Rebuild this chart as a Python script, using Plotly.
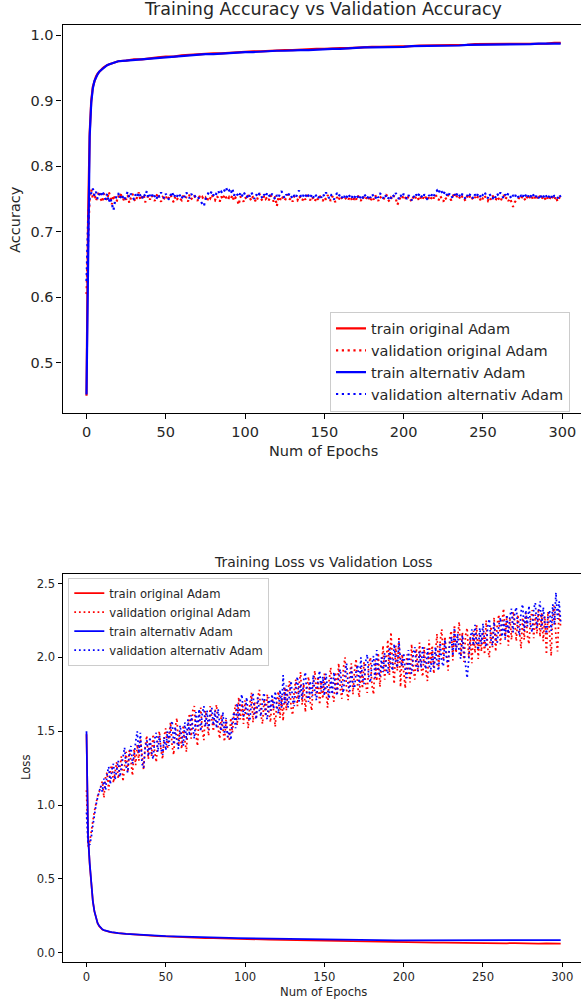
import plotly.graph_objects as go

# ---------------- data ----------------
EPOCHS = list(range(300))
TRAIN_EPOCHS = list(range(21)) + list(range(25, 300, 5)) + [299]

TRAIN_ACC_ORIG = [0.450, 0.720, 0.850, 0.900, 0.921, 0.931, 0.937, 0.941, 0.944, 0.947, 0.949,
                  0.951, 0.953, 0.954, 0.955, 0.956, 0.957, 0.958, 0.958, 0.959, 0.960,
                  0.961, 0.963, 0.963, 0.965, 0.966, 0.967, 0.967, 0.969, 0.970, 0.971,
                  0.971, 0.972, 0.972, 0.973, 0.974, 0.974, 0.975, 0.975, 0.976, 0.976,
                  0.977, 0.977, 0.978, 0.978, 0.979, 0.979, 0.980, 0.980, 0.980, 0.981,
                  0.981, 0.982, 0.982, 0.982, 0.983, 0.983, 0.983, 0.984, 0.984, 0.984,
                  0.985, 0.985, 0.985, 0.985, 0.986, 0.986, 0.986, 0.986, 0.986, 0.987,
                  0.987, 0.987, 0.987, 0.987, 0.988, 0.988]
TRAIN_ACC_ALT = [0.452, 0.705, 0.845, 0.897, 0.919, 0.930, 0.936, 0.940, 0.944, 0.946, 0.949,
                 0.951, 0.952, 0.954, 0.955, 0.956, 0.957, 0.957, 0.958, 0.959, 0.960,
                 0.961, 0.962, 0.964, 0.964, 0.966, 0.966, 0.968, 0.968, 0.969, 0.970,
                 0.971, 0.971, 0.972, 0.973, 0.973, 0.974, 0.974, 0.975, 0.975, 0.976,
                 0.976, 0.977, 0.977, 0.977, 0.978, 0.978, 0.979, 0.979, 0.980, 0.980,
                 0.981, 0.981, 0.981, 0.982, 0.982, 0.982, 0.983, 0.983, 0.983, 0.984,
                 0.984, 0.984, 0.984, 0.985, 0.985, 0.985, 0.985, 0.986, 0.986, 0.986,
                 0.986, 0.986, 0.987, 0.987, 0.987, 0.987]

VAL_ACC_ORIG = [
    0.605, 0.700, 0.757, 0.764, 0.751, 0.759, 0.747, 0.755, 0.762, 0.750,
    0.745, 0.758, 0.753, 0.748, 0.761, 0.754, 0.742, 0.756, 0.750, 0.746,
    0.755, 0.751, 0.759, 0.747, 0.753, 0.749, 0.756, 0.744, 0.752, 0.758,
    0.750, 0.746, 0.754, 0.760, 0.748, 0.753, 0.757, 0.745, 0.751, 0.755,
    0.749, 0.756, 0.752, 0.747, 0.754, 0.759, 0.750, 0.746, 0.753, 0.751,
    0.755, 0.748, 0.752, 0.757, 0.750, 0.745, 0.754, 0.749, 0.753, 0.751,
    0.748, 0.755, 0.750, 0.753, 0.746, 0.757, 0.751, 0.749, 0.754, 0.752,
    0.747, 0.755, 0.750, 0.753, 0.749, 0.752, 0.746, 0.754, 0.751, 0.757,
    0.750, 0.748, 0.755, 0.752, 0.746, 0.754, 0.749, 0.757, 0.751, 0.748,
    0.753, 0.750, 0.756, 0.747, 0.752, 0.749, 0.741, 0.754, 0.750, 0.746,
    0.753, 0.749, 0.756, 0.751, 0.747, 0.754, 0.750, 0.745, 0.752, 0.758,
    0.751, 0.747, 0.755, 0.750, 0.753, 0.748, 0.756, 0.751, 0.746, 0.754,
    0.739, 0.752, 0.748, 0.755, 0.750, 0.747, 0.753, 0.757, 0.749, 0.752,
    0.746, 0.754, 0.750, 0.748, 0.755, 0.751, 0.747, 0.753, 0.749, 0.756,
    0.751, 0.748, 0.754, 0.750, 0.746, 0.753, 0.749, 0.755, 0.751, 0.747,
    0.753, 0.749, 0.756, 0.752, 0.747, 0.754, 0.750, 0.745, 0.753, 0.748,
    0.755, 0.751, 0.748, 0.750, 0.752, 0.748, 0.754, 0.750, 0.746, 0.753,
    0.749, 0.756, 0.751, 0.747, 0.754, 0.750, 0.748, 0.755, 0.752, 0.746,
    0.753, 0.749, 0.756, 0.751, 0.747, 0.754, 0.750, 0.748, 0.753, 0.757,
    0.750, 0.746, 0.752, 0.749, 0.755, 0.751, 0.741, 0.747, 0.753, 0.750,
    0.756, 0.752, 0.748, 0.754, 0.750, 0.746, 0.753, 0.749, 0.755, 0.751,
    0.747, 0.754, 0.750, 0.756, 0.752, 0.748, 0.753, 0.749, 0.755, 0.751,
    0.757, 0.752, 0.748, 0.755, 0.750, 0.746, 0.753, 0.749, 0.756, 0.752,
    0.748, 0.754, 0.760, 0.751, 0.757, 0.753, 0.749, 0.755, 0.751, 0.747,
    0.754, 0.750, 0.756, 0.752, 0.748, 0.753, 0.749, 0.755, 0.751, 0.746,
    0.752, 0.756, 0.750, 0.747, 0.753, 0.749, 0.755, 0.751, 0.748, 0.754,
    0.750, 0.746, 0.752, 0.756, 0.749, 0.753, 0.747, 0.751, 0.745, 0.738,
    0.745, 0.748, 0.748, 0.753, 0.750, 0.755, 0.751, 0.747, 0.754, 0.750,
    0.756, 0.752, 0.748, 0.754, 0.750, 0.757, 0.753, 0.749, 0.755, 0.751,
    0.747, 0.754, 0.750, 0.756, 0.752, 0.748, 0.754, 0.746, 0.751, 0.757]
VAL_ACC_ALT = [
    0.625, 0.715, 0.752, 0.760, 0.766, 0.755, 0.761, 0.750, 0.758, 0.754,
    0.762, 0.756, 0.749, 0.758, 0.745, 0.752, 0.740, 0.733, 0.747, 0.755,
    0.759, 0.751, 0.757, 0.753, 0.748, 0.756, 0.761, 0.752, 0.758, 0.754,
    0.749, 0.757, 0.753, 0.760, 0.755, 0.750, 0.758, 0.754, 0.762, 0.751,
    0.756, 0.752, 0.759, 0.754, 0.749, 0.757, 0.753, 0.760, 0.755, 0.751,
    0.758, 0.754, 0.749, 0.756, 0.761, 0.752, 0.757, 0.753, 0.759, 0.755,
    0.750, 0.757, 0.753, 0.760, 0.755, 0.751, 0.758, 0.754, 0.756, 0.752,
    0.754, 0.750, 0.747, 0.742, 0.739, 0.749, 0.755, 0.760, 0.757, 0.762,
    0.756, 0.753, 0.759, 0.763, 0.757, 0.761, 0.758, 0.764, 0.768, 0.760,
    0.763, 0.758, 0.766, 0.755, 0.760, 0.757, 0.753, 0.759, 0.754, 0.761,
    0.756, 0.752, 0.758, 0.754, 0.760, 0.755, 0.750, 0.757, 0.753, 0.759,
    0.755, 0.751, 0.757, 0.753, 0.760, 0.756, 0.752, 0.758, 0.754, 0.749,
    0.756, 0.752, 0.758, 0.762, 0.755, 0.751, 0.757, 0.753, 0.759, 0.754,
    0.750, 0.756, 0.752, 0.758, 0.763, 0.755, 0.751, 0.757, 0.753, 0.759,
    0.755, 0.751, 0.757, 0.752, 0.758, 0.754, 0.750, 0.756, 0.752, 0.758,
    0.754, 0.760, 0.756, 0.751, 0.757, 0.753, 0.749, 0.755, 0.759, 0.754,
    0.758, 0.753, 0.749, 0.756, 0.752, 0.758, 0.754, 0.750, 0.756, 0.752,
    0.757, 0.753, 0.749, 0.755, 0.751, 0.758, 0.754, 0.750, 0.756, 0.752,
    0.758, 0.754, 0.750, 0.756, 0.752, 0.759, 0.755, 0.751, 0.757, 0.753,
    0.749, 0.755, 0.751, 0.757, 0.753, 0.759, 0.755, 0.750, 0.756, 0.752,
    0.758, 0.754, 0.750, 0.756, 0.752, 0.748, 0.755, 0.751, 0.757, 0.753,
    0.759, 0.755, 0.751, 0.757, 0.753, 0.749, 0.756, 0.752, 0.758, 0.754,
    0.760, 0.763, 0.758, 0.765, 0.761, 0.756, 0.762, 0.757, 0.753, 0.759,
    0.755, 0.751, 0.757, 0.753, 0.760, 0.756, 0.752, 0.758, 0.754, 0.750,
    0.756, 0.752, 0.758, 0.754, 0.750, 0.757, 0.753, 0.759, 0.755, 0.751,
    0.757, 0.761, 0.755, 0.751, 0.758, 0.754, 0.750, 0.756, 0.752, 0.758,
    0.754, 0.760, 0.756, 0.751, 0.757, 0.753, 0.759, 0.755, 0.750, 0.756,
    0.752, 0.758, 0.754, 0.750, 0.756, 0.752, 0.759, 0.755, 0.751, 0.757,
    0.753, 0.759, 0.755, 0.751, 0.757, 0.753, 0.749, 0.756, 0.752, 0.758,
    0.754, 0.750, 0.756, 0.752, 0.758, 0.754, 0.755, 0.751, 0.757, 0.753]

TRAIN_LOSS_ORIG = [1.48, 0.80, 0.60, 0.45, 0.35, 0.28, 0.23, 0.20, 0.180, 0.166, 0.157,
                   0.152, 0.148, 0.145, 0.142, 0.140, 0.138, 0.136, 0.135, 0.134, 0.132,
                   0.127, 0.122, 0.119, 0.116, 0.112, 0.110, 0.107, 0.105, 0.103, 0.101,
                   0.099, 0.098, 0.096, 0.095, 0.094, 0.093, 0.091, 0.090, 0.089, 0.088,
                   0.086, 0.084, 0.083, 0.082, 0.081, 0.079, 0.078, 0.077, 0.076, 0.075,
                   0.076, 0.074, 0.073, 0.073, 0.072, 0.071, 0.072, 0.070, 0.070, 0.069,
                   0.069, 0.068, 0.065, 0.067, 0.066, 0.066, 0.065, 0.065, 0.064, 0.065,
                   0.063, 0.064, 0.062, 0.063, 0.062, 0.062]
TRAIN_LOSS_ALT = [1.50, 0.78, 0.61, 0.46, 0.35, 0.28, 0.235, 0.20, 0.182, 0.168, 0.158,
                  0.153, 0.149, 0.146, 0.143, 0.141, 0.139, 0.137, 0.136, 0.135, 0.133,
                  0.128, 0.124, 0.121, 0.118, 0.115, 0.112, 0.110, 0.108, 0.106, 0.105,
                  0.103, 0.102, 0.101, 0.100, 0.099, 0.098, 0.097, 0.096, 0.095, 0.094,
                  0.093, 0.092, 0.091, 0.090, 0.089, 0.088, 0.088, 0.087, 0.087, 0.086,
                  0.086, 0.085, 0.085, 0.085, 0.084, 0.084, 0.084, 0.083, 0.083, 0.083,
                  0.083, 0.082, 0.083, 0.082, 0.082, 0.083, 0.082, 0.082, 0.083, 0.084,
                  0.083, 0.084, 0.083, 0.085, 0.084, 0.086]

VAL_LOSS_ORIG = [
    1.10, 0.72, 0.75, 0.81, 0.89, 0.96, 1.02, 1.06, 1.09, 1.12,
    1.16, 1.05, 1.19, 1.22, 1.10, 1.24, 1.27, 1.15, 1.23, 1.29,
    1.18, 1.27, 1.33, 1.16, 1.29, 1.36, 1.22, 1.37, 1.30, 1.20,
    1.38, 1.27, 1.41, 1.30, 1.45, 1.33, 1.24, 1.40, 1.47, 1.31,
    1.43, 1.33, 1.48, 1.36, 1.29, 1.45, 1.50, 1.37, 1.31, 1.47,
    1.52, 1.38, 1.48, 1.56, 1.40, 1.34, 1.53, 1.59, 1.40, 1.50,
    1.38, 1.54, 1.44, 1.36, 1.56, 1.62, 1.45, 1.64, 1.67, 1.48,
    1.40, 1.61, 1.66, 1.51, 1.44, 1.64, 1.56, 1.47, 1.67, 1.58,
    1.50, 1.63, 1.68, 1.52, 1.45, 1.61, 1.50, 1.43, 1.58, 1.47,
    1.44, 1.59, 1.49, 1.62, 1.68, 1.54, 1.73, 1.58, 1.69, 1.55,
    1.71, 1.59, 1.52, 1.69, 1.76, 1.56, 1.70, 1.58, 1.73, 1.78,
    1.61, 1.55, 1.72, 1.60, 1.75, 1.63, 1.56, 1.74, 1.62, 1.53,
    1.70, 1.77, 1.59, 1.74, 1.57, 1.80, 1.64, 1.78, 1.84, 1.66,
    1.61, 1.78, 1.85, 1.67, 1.81, 1.90, 1.68, 1.82, 1.63, 1.79,
    1.87, 1.70, 1.64, 1.83, 1.91, 1.73, 1.87, 1.68, 1.84, 1.72,
    1.89, 1.74, 1.66, 1.85, 1.93, 1.75, 1.70, 1.90, 1.76, 1.96,
    1.79, 1.72, 1.93, 2.00, 1.78, 1.71, 1.89, 1.96, 1.75, 1.91,
    1.99, 1.80, 1.73, 1.93, 1.79, 1.97, 1.82, 1.76, 1.95, 2.00,
    1.81, 1.75, 1.98, 1.84, 2.03, 1.80, 1.95, 2.08, 1.85, 2.00,
    2.12, 1.88, 2.17, 1.95, 1.82, 2.08, 1.91, 2.14, 1.80, 2.02,
    1.87, 1.79, 2.02, 1.90, 1.83, 2.09, 1.93, 1.85, 2.06, 1.90,
    2.10, 1.93, 1.87, 2.07, 1.91, 1.84, 2.12, 1.95, 2.08, 1.89,
    2.05, 2.16, 1.93, 2.11, 2.19, 1.98, 2.14, 2.01, 1.91, 2.13,
    2.18, 1.98, 2.22, 2.03, 2.16, 2.24, 2.01, 2.17, 1.97, 2.15,
    2.20, 2.00, 2.14, 1.96, 2.18, 2.03, 2.22, 1.99, 2.16, 2.04,
    2.19, 2.02, 2.25, 2.06, 2.00, 2.21, 2.07, 2.27, 2.04, 2.23,
    2.29, 2.09, 2.24, 2.33, 2.13, 2.28, 2.08, 2.26, 2.12, 2.31,
    2.25, 2.11, 2.29, 2.14, 2.06, 2.27, 2.12, 2.30, 2.15, 2.09,
    2.26, 2.32, 2.13, 2.29, 2.16, 2.33, 2.14, 2.30, 2.11, 2.28,
    2.02, 2.31, 2.18, 2.01, 2.30, 2.35, 2.14, 2.04, 2.32, 2.20]
VAL_LOSS_ALT = [
    0.95, 0.74, 0.73, 0.78, 0.86, 0.94, 1.00, 1.05, 1.10, 1.13,
    1.09, 1.18, 1.10, 1.21, 1.26, 1.14, 1.24, 1.28, 1.17, 1.25,
    1.30, 1.19, 1.26, 1.33, 1.39, 1.26, 1.22, 1.35, 1.40, 1.28,
    1.33, 1.43, 1.50, 1.35, 1.49, 1.28, 1.25, 1.39, 1.44, 1.33,
    1.46, 1.36, 1.31, 1.45, 1.49, 1.36, 1.47, 1.38, 1.34, 1.46,
    1.37, 1.50, 1.40, 1.53, 1.57, 1.41, 1.53, 1.43, 1.38, 1.54,
    1.45, 1.40, 1.56, 1.44, 1.58, 1.47, 1.61, 1.51, 1.45, 1.63,
    1.52, 1.65, 1.50, 1.62, 1.67, 1.53, 1.64, 1.51, 1.62, 1.66,
    1.54, 1.64, 1.52, 1.65, 1.55, 1.50, 1.63, 1.48, 1.59, 1.46,
    1.50, 1.44, 1.58, 1.63, 1.52, 1.69, 1.58, 1.71, 1.75, 1.60,
    1.62, 1.73, 1.60, 1.57, 1.71, 1.76, 1.62, 1.58, 1.73, 1.64,
    1.60, 1.72, 1.76, 1.62, 1.58, 1.73, 1.64, 1.75, 1.65, 1.77,
    1.67, 1.62, 1.78, 1.66, 1.88, 1.69, 1.81, 1.66, 1.77, 1.84,
    1.71, 1.67, 1.81, 1.87, 1.70, 1.82, 1.72, 1.85, 1.90, 1.74,
    1.70, 1.84, 1.73, 1.88, 1.76, 1.71, 1.85, 1.91, 1.77, 1.87,
    1.74, 1.89, 1.78, 1.72, 1.86, 1.75, 1.90, 1.79, 1.74, 1.88,
    1.92, 1.80, 1.76, 1.90, 1.96, 1.81, 1.77, 1.93, 1.82, 1.79,
    1.91, 1.95, 1.81, 2.00, 1.86, 1.82, 1.97, 2.02, 1.87, 1.83,
    1.96, 2.01, 1.86, 2.05, 1.91, 1.87, 2.00, 1.90, 2.03, 1.92,
    1.89, 2.07, 1.95, 1.91, 2.09, 1.97, 1.93, 2.11, 1.98, 1.94,
    2.03, 1.91, 1.86, 2.05, 1.92, 1.89, 2.02, 2.07, 1.94, 1.91,
    2.04, 1.93, 2.08, 1.96, 1.92, 2.06, 1.95, 1.90, 2.05, 1.93,
    2.07, 1.96, 1.91, 2.10, 1.97, 1.94, 2.12, 1.99, 1.96, 2.09,
    2.14, 2.01, 2.20, 2.05, 2.16, 2.03, 1.99, 2.15, 2.04, 1.95,
    1.86, 1.98, 2.13, 2.19, 2.08, 2.22, 2.10, 2.05, 2.20, 2.09,
    2.23, 2.11, 2.07, 2.21, 2.26, 2.12, 2.08, 2.24, 2.13, 2.10,
    2.22, 2.27, 2.14, 2.25, 2.12, 2.29, 2.16, 2.28, 2.33, 2.17,
    2.30, 2.34, 2.20, 2.15, 2.31, 2.36, 2.18, 2.32, 2.21, 2.35,
    2.22, 2.17, 2.33, 2.37, 2.20, 2.31, 2.38, 2.19, 2.34, 2.23,
    2.16, 2.28, 2.32, 2.18, 2.36, 2.22, 2.44, 2.26, 2.38, 2.24]

X_TICKS = [0, 50, 100, 150, 200, 250, 300]
ACC_TICKS = [0.5, 0.6, 0.7, 0.8, 0.9, 1.0]
LOSS_TICKS = [0.0, 0.5, 1.0, 1.5, 2.0, 2.5]
NAMES = ["train original Adam", "validation original Adam",
         "train alternativ Adam", "validation alternativ Adam"]

# ---------------- figure ----------------
W, H = 581, 1001
RED, BLUE = "#ff0000", "#0000ff"
FONT = "DejaVu Sans"
TXT = "#262626"

fig = go.Figure()

def add_group(xa, ya, leg, lw, dash, tr_o, va_o, tr_a, va_a):
    specs = [(TRAIN_EPOCHS, tr_o, RED, "solid", NAMES[0]),
             (EPOCHS, va_o, RED, dash, NAMES[1]),
             (TRAIN_EPOCHS, tr_a, BLUE, "solid", NAMES[2]),
             (EPOCHS, va_a, BLUE, dash, NAMES[3])]
    for xs, ys, col, d, nm in specs:
        fig.add_trace(go.Scatter(x=xs, y=ys, mode="lines", name=nm,
                                 line=dict(color=col, width=lw, dash=d),
                                 xaxis=xa, yaxis=ya, legend=leg))

add_group("x", "y", "legend", 2.2, "2.2px,3.6px",
          TRAIN_ACC_ORIG, VAL_ACC_ORIG, TRAIN_ACC_ALT, VAL_ACC_ALT)
add_group("x2", "y2", "legend2", 1.75, "1.75px,2.9px",
          TRAIN_LOSS_ORIG, VAL_LOSS_ORIG, TRAIN_LOSS_ALT, VAL_LOSS_ALT)

x0 = 62.5 / W
def xax(fs, tl, lw):
    return dict(domain=[x0, 1], range=[-15.13, 311.8], tickvals=X_TICKS,
                ticks="outside", ticklen=tl, tickwidth=lw, tickcolor="black",
                showline=True, linecolor="black", linewidth=lw, mirror=True,
                showgrid=False, zeroline=False,
                tickfont=dict(family=FONT, size=fs, color=TXT))
def yax(fs, tl, lw, rng, tv, dom):
    return dict(domain=dom, range=rng, tickvals=tv, tickformat=".1f",
                ticks="outside", ticklen=tl, tickwidth=lw, tickcolor="black",
                showline=True, linecolor="black", linewidth=lw,
                showgrid=False, zeroline=False,
                tickfont=dict(family=FONT, size=fs, color=TXT))

top_dom = [1 - 413.3 / H, 1 - 25.3 / H]
bot_dom = [1 - 962.3 / H, 1 - 573.7 / H]

fig.update_layout(
    width=W, height=H, margin=dict(l=0, r=0, t=0, b=0),
    paper_bgcolor="white", plot_bgcolor="white",
    font=dict(family=FONT, color=TXT),
    xaxis=dict(**xax(14.5, 5, 1.2), anchor="y"),
    yaxis=dict(**yax(14.5, 5, 1.2, [0.4233, 1.0148], ACC_TICKS, top_dom), anchor="x"),
    xaxis2=dict(**xax(11.6, 4, 1.0), anchor="y2"),
    yaxis2=dict(**yax(11.6, 4, 1.0, [-0.065, 2.567], LOSS_TICKS, bot_dom), anchor="x2"),
    legend=dict(x=330 / W, y=1 - 311.5 / H, xanchor="left", yanchor="top",
                bgcolor="rgba(255,255,255,0.8)", bordercolor="#cccccc", borderwidth=1,
                font=dict(family=FONT, size=14.5, color=TXT)),
    legend2=dict(x=68.3 / W, y=1 - 577.5 / H, xanchor="left", yanchor="top",
                 bgcolor="rgba(255,255,255,0.8)", bordercolor="#cccccc", borderwidth=1,
                 font=dict(family=FONT, size=11.6, color=TXT)),
    showlegend=True,
)

cx = (62.5 + 584.4) / 2 / W
def ann(text, x, y, size, angle=0):
    fig.add_annotation(text=text, x=x, y=1 - y / H, xref="paper", yref="paper",
                       xanchor="center", yanchor="middle", showarrow=False,
                       textangle=angle, font=dict(family=FONT, size=size, color=TXT))

ann("Training Accuracy vs Validation Accuracy", cx, 9.5, 17.5)
ann("Accuracy", 15.5 / W, 219.3, 14.5, -90)
ann("Num of Epochs", cx, 451, 14.5)
ann("Training Loss vs Validation Loss", cx, 561.7, 13.9)
ann("Loss", 26 / W, 768, 11.6, -90)
ann("Num of Epochs", cx, 992, 11.6)

fig.write_html("out.html")
